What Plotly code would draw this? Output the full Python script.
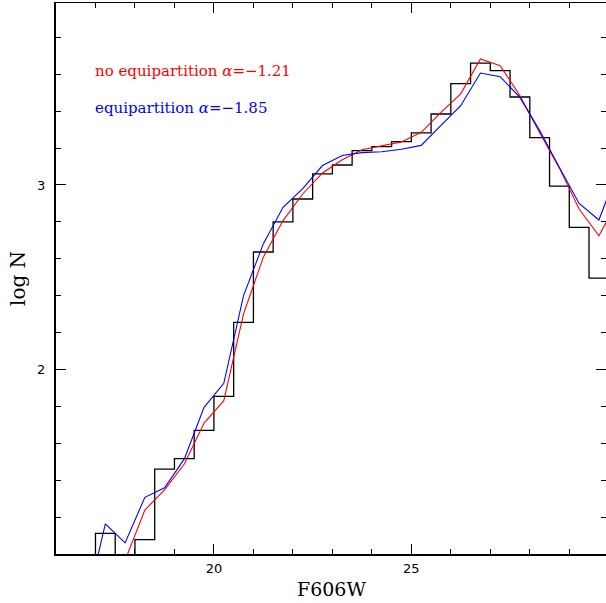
import plotly.graph_objects as go

# ---- data ----
bin_lo = [17.0, 17.5, 18.0, 18.5, 19.0, 19.5, 20.0, 20.5, 21.0, 21.5, 22.0, 22.5, 23.0,
          23.5, 24.0, 24.5, 25.0, 25.5, 26.0, 26.5, 27.0, 27.5, 28.0, 28.5, 29.0, 29.5]
hist_logN = [1.114, 0.95, 1.08, 1.462, 1.518, 1.671, 1.855, 2.256, 2.637, 2.80, 2.924, 3.06, 3.108,
             3.186, 3.207, 3.234, 3.282, 3.384, 3.548, 3.660, 3.619, 3.476, 3.256, 2.994, 2.770, 2.496]
bin_width = 0.5

equip_mag = [16.75, 17.25, 17.75, 18.25, 18.75, 19.25, 19.75, 20.25, 20.75, 21.25, 21.75, 22.25,
             22.75, 23.25, 23.75, 24.25, 24.75, 25.25, 25.75, 26.25, 26.75, 27.25, 27.75, 28.25,
             28.75, 29.25, 29.75, 30.25]
equip_logN = [0.71, 1.165, 1.062, 1.309, 1.360, 1.517, 1.796, 1.926, 2.401, 2.681, 2.879, 2.98,
              3.105, 3.159, 3.175, 3.180, 3.193, 3.214, 3.323, 3.429, 3.606, 3.586, 3.474, 3.294,
              3.095, 2.90, 2.81, 3.09]

noequip_mag = [17.75, 18.25, 18.75, 19.25, 19.75, 20.25, 20.75, 21.25, 21.75, 22.25, 22.75, 23.25,
               23.75, 24.25, 24.75, 25.25, 25.75, 26.25, 26.75, 27.25, 27.75, 28.25, 28.75, 29.25,
               29.75, 30.25]
noequip_logN = [0.967, 1.240, 1.349, 1.489, 1.711, 1.832, 2.302, 2.608, 2.807, 2.951, 3.065, 3.136,
                3.191, 3.213, 3.233, 3.285, 3.393, 3.493, 3.682, 3.646, 3.483, 3.283, 3.091, 2.87,
                2.725, 2.92]

label_noequip = "no equipartition <i>\u03b1</i>=\u22121.21"
label_equip = "equipartition <i>\u03b1</i>=\u22121.85"

# ---- build histogram outline ----
baseline = 0.0
hx = [bin_lo[0]]
hy = [baseline]
for lo, v in zip(bin_lo, hist_logN):
    hx += [lo, lo + bin_width]
    hy += [v, v]

XR = [16.0, 29.93]
YR = [1.002, 3.985]

fig = go.Figure()
fig.add_trace(go.Scatter(x=hx, y=hy, mode="lines", line=dict(color="black", width=1.3),
                         showlegend=False, hoverinfo="skip"))
fig.add_trace(go.Scatter(x=noequip_mag, y=noequip_logN, mode="lines",
                         line=dict(color="#ff0000", width=1.1), showlegend=False))
fig.add_trace(go.Scatter(x=equip_mag, y=equip_logN, mode="lines",
                         line=dict(color="#0000ff", width=1.1), showlegend=False))
# dummy trace for overlay (top/right) axes
fig.add_trace(go.Scatter(x=[None], y=[None], xaxis="x2", yaxis="y2", showlegend=False,
                         hoverinfo="skip"))

tickfont = dict(family="DejaVu Sans", size=13, color="black")
common = dict(showgrid=False, zeroline=False, ticks="inside", tickcolor="black",
              linecolor="black", showline=True)

fig.update_layout(
    width=606, height=603,
    margin=dict(l=56, r=0, t=3, b=49),
    paper_bgcolor="white", plot_bgcolor="white",
    xaxis=dict(range=XR, tick0=0, dtick=5, ticklen=10, tickwidth=1, linewidth=2,
               tickfont=tickfont, ticklabelstandoff=1,
               minor=dict(dtick=1, tick0=0, ticklen=5, ticks="inside", tickcolor="black"),
               **common),
    yaxis=dict(range=YR, tick0=0, dtick=1, ticklen=10, tickwidth=1, linewidth=2,
               tickfont=tickfont, ticklabelstandoff=6,
               minor=dict(dtick=0.2, tick0=0, ticklen=5, ticks="inside", tickcolor="black"),
               **common),
    xaxis2=dict(range=XR, overlaying="x", side="top", anchor="y2", tick0=0, dtick=5,
                ticklen=10, tickwidth=1, linewidth=1, showticklabels=False,
                minor=dict(dtick=1, tick0=0, ticklen=5, ticks="inside", tickcolor="black"),
                **common),
    yaxis2=dict(range=YR, overlaying="y", side="right", anchor="x2", tick0=0, dtick=1,
                ticklen=10, tickwidth=1, linewidth=1, showticklabels=False,
                minor=dict(dtick=0.2, tick0=0, ticklen=5, ticks="inside", tickcolor="black"),
                **common),
    annotations=[
        dict(text=label_noequip, xref="paper", yref="paper", x=0.0675, y=0.876,
             xanchor="left", yanchor="middle", showarrow=False,
             font=dict(family="DejaVu Serif", size=15, color="#ff0000")),
        dict(text=label_equip, xref="paper", yref="paper", x=0.0675, y=0.809,
             xanchor="left", yanchor="middle", showarrow=False,
             font=dict(family="DejaVu Serif", size=15, color="#0000ff")),
        dict(text="F606W", xref="paper", yref="paper", x=0.5, y=-0.063,
             xanchor="center", yanchor="middle", showarrow=False,
             font=dict(family="DejaVu Serif", size=19, color="black")),
        dict(text="log\u00a0N", xref="paper", yref="paper", x=-0.07, y=0.5,
             xanchor="center", yanchor="middle", showarrow=False, textangle=-90,
             font=dict(family="DejaVu Serif", size=20, color="black")),
    ],
)

fig.write_html("out.html",
               config={"displayModeBar": False},
               post_script="document.body.style.margin='0';document.body.style.overflow='hidden';")
